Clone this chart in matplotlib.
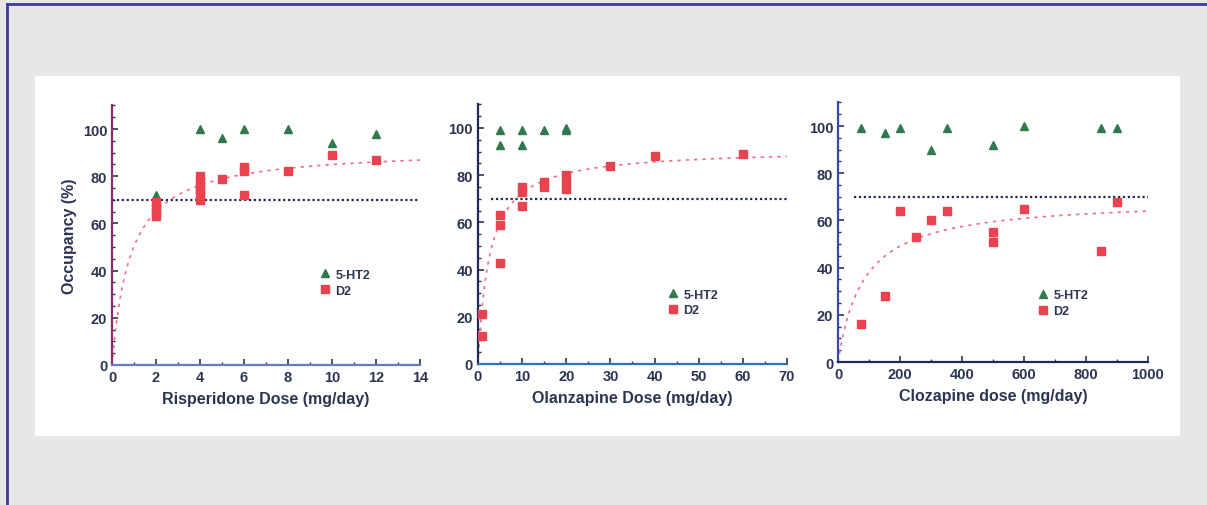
import numpy as np
import matplotlib
matplotlib.use("Agg")
import matplotlib.pyplot as plt
from matplotlib.ticker import MultipleLocator

plt.rcParams['font.family'] = ['Liberation Sans', 'DejaVu Sans']

# risperidone
risp_d2_x = [2, 2, 2, 2, 4, 4, 4, 4, 4, 4, 5, 6, 6, 6, 8, 10, 12]
risp_d2_y = [63, 65, 67, 69, 70, 72, 74, 76, 78, 80, 79, 72, 82, 84, 82, 89, 87]
risp_ht_x = [2, 4, 5, 6, 8, 10, 12]
risp_ht_y = [72, 100, 96, 100, 100, 94, 98]
risp_fit = (92.0, 0.83)   # emax, ed50

# olanzapine
olz_d2_x = [1, 1, 5, 5, 5, 10, 10, 10, 15, 15, 20, 20, 20, 30, 40, 60]
olz_d2_y = [12, 21, 43, 59, 63, 67, 73, 75, 75, 77, 74, 77, 80, 84, 88, 89]
olz_ht_x = [5, 5, 10, 10, 15, 20, 20]
olz_ht_y = [99, 93, 99, 93, 99, 99, 100]
olz_fit = (91.2, 2.6)

# clozapine
clz_d2_x = [75, 150, 200, 250, 300, 350, 500, 500, 600, 850, 900]
clz_d2_y = [16, 28, 64, 53, 60, 64, 55, 51, 65, 47, 68]
clz_ht_x = [75, 150, 200, 300, 350, 500, 600, 850, 900]
clz_ht_y = [99, 97, 99, 90, 99, 92, 100, 99, 99]
clz_fit = (69.2, 82.0)

xlabels = ["Risperidone Dose (mg/day)", "Olanzapine Dose (mg/day)", "Clozapine dose (mg/day)"]
xmax = [14, 70, 1000]
xmajor = [2, 10, 200]
xminor = [1, 5, 100]
line_start = [0, 3, 50]

txt = '#2b3552'
red = '#e9434f'
green = '#2f7a4c'

fig = plt.figure(figsize=(12.07, 5.06), dpi=100)
fig.patch.set_facecolor('#e7e7e7')
# white panel and blue frame
fig.add_artist(plt.Rectangle((0.029, 0.136), 0.949, 0.712, transform=fig.transFigure,
                             facecolor='white', edgecolor='none', zorder=0))
fig.add_artist(plt.Line2D([0.006, 0.006], [0, 0.99], transform=fig.transFigure, color='#3a3a9e', lw=2))
fig.add_artist(plt.Line2D([0.006, 1.0], [0.99, 0.99], transform=fig.transFigure, color='#3a3a9e', lw=2))

positions = [[0.0928, 0.2767, 0.2552, 0.513],
             [0.3960, 0.2787, 0.2560, 0.513],
             [0.6943, 0.2826, 0.2568, 0.513]]
datasets = [(risp_d2_x, risp_d2_y, risp_ht_x, risp_ht_y, risp_fit),
            (olz_d2_x, olz_d2_y, olz_ht_x, olz_ht_y, olz_fit),
            (clz_d2_x, clz_d2_y, clz_ht_x, clz_ht_y, clz_fit)]
legpos = [(0.66, 0.39), (0.60, 0.31), (0.63, 0.30)]
leftcol = ['#8a2d6e', '#1f2a55', '#3b4aa8']
botcol = ['#6a78c8', '#2f6fc0', '#1f2a55']

for i, (pos, d) in enumerate(zip(positions, datasets)):
    ax = fig.add_axes(pos)
    ax.set_facecolor('none')
    d2x, d2y, htx, hty, (emax, ed50) = d
    xs = np.linspace(0, xmax[i], 300)
    ax.plot(xs, emax * xs / (ed50 + xs), color='#f07080', lw=1.2, ls=(0, (2, 3)), zorder=2)
    ax.plot([line_start[i], xmax[i]], [70, 70], color='#1e2a5a', lw=1.6, ls=(0, (1, 1.2)), zorder=2)
    ax.plot(htx, hty, ls='none', marker='^', ms=5.5, color=green, label='5-HT2', zorder=3)
    ax.plot(d2x, d2y, ls='none', marker='s', ms=5.5, color=red, label='D2', zorder=3)
    ax.set_xlim(0, xmax[i])
    ax.set_ylim(0, 110)
    ax.xaxis.set_major_locator(MultipleLocator(xmajor[i]))
    ax.xaxis.set_minor_locator(MultipleLocator(xminor[i]))
    ax.yaxis.set_minor_locator(MultipleLocator(5))
    ax.set_yticks([0, 20, 40, 60, 80, 100])
    for s in ['top', 'right']:
        ax.spines[s].set_visible(False)
    ax.spines['left'].set_color(leftcol[i])
    ax.spines['bottom'].set_color(botcol[i])
    ax.spines['left'].set_linewidth(1.6)
    ax.spines['bottom'].set_linewidth(1.6)
    ax.tick_params(which='both', direction='in', colors=txt, labelsize=10.5)
    ax.tick_params(which='major', length=4, width=1.2)
    ax.tick_params(which='minor', length=2.5, width=1)
    for lab in ax.get_xticklabels() + ax.get_yticklabels():
        lab.set_fontweight('bold')
    ax.set_xlabel(xlabels[i], fontsize=11.5, fontweight='bold', color=txt, labelpad=5)
    if i == 0:
        ax.set_ylabel("Occupancy (%)", fontsize=11.5, fontweight='bold', color=txt, labelpad=4)
    leg = ax.legend(loc='upper left', bbox_to_anchor=legpos[i], frameon=False, fontsize=9,
                    handlelength=0.8, handletextpad=0.4, labelspacing=0.3, borderaxespad=0)
    for t in leg.get_texts():
        t.set_color(txt)
        t.set_fontweight('bold')

fig.savefig('out.png', dpi=100, facecolor=fig.get_facecolor())
